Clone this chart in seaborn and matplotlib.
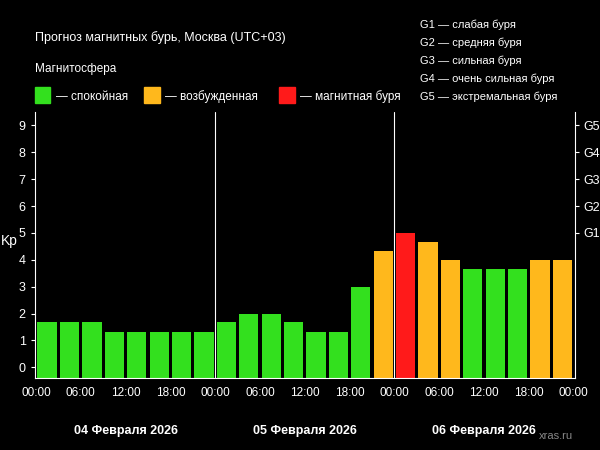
import matplotlib
matplotlib.use("Agg")
import matplotlib.pyplot as plt
import seaborn as sns
import pandas as pd
import numpy as np

kp = [1.67,1.67,1.67,1.33,1.33,1.33,1.33,1.33,
      1.67,2.0,2.0,1.67,1.33,1.33,3.0,4.33,
      5.0,4.67,4.0,3.67,3.67,3.67,4.0,4.0]
hour_labels = ["00:00","06:00","12:00","18:00"]*3 + ["00:00"]
days = ["04 Февраля 2026","05 Февраля 2026","06 Февраля 2026"]
g_levels = ["G1","G2","G3","G4","G5"]
g_desc = ["G1 — слабая буря","G2 — средняя буря","G3 — сильная буря",
          "G4 — очень сильная буря","G5 — экстремальная буря"]

GREEN, ORANGE, RED = "#33e01e", "#ffb81c", "#ff1a1a"
def col(v):
    return RED if v >= 5 else (ORANGE if v >= 4 else GREEN)

sns.set_style("dark")
plt.rcParams['font.family'] = ['Liberation Sans', 'DejaVu Sans']
fig = plt.figure(figsize=(6, 4.5), dpi=100, facecolor="black")
ax = fig.add_axes([0.058, 0.16, 0.9, 0.591], facecolor="black")

BASE = -0.4
df = pd.DataFrame({"i": range(len(kp)), "h": [v - BASE for v in kp]})
sns.barplot(data=df, x="i", y="h", hue="i", palette=[col(v) for v in kp],
            legend=False, width=0.86, ax=ax, bottom=BASE, linewidth=0, saturation=1)

ax.set_ylim(BASE, 9.5)
ax.set_xlim(-0.55, 23.55)
for d in (7.5, 15.5):
    ax.axvline(d, color="white", lw=0.8)
for s in ["left", "bottom", "right"]:
    ax.spines[s].set_color("white"); ax.spines[s].set_linewidth(0.8)
ax.spines["top"].set_visible(False)
ax.set_yticks(range(10))
ax.set_yticklabels([str(i) for i in range(10)], color="white", fontsize=9)
ax.set_xticks(np.arange(-0.5, 24, 2))
ax.set_xticklabels(hour_labels, color="white", fontsize=8.5)
ax.tick_params(colors="white", length=3, width=0.8)
ax.set_xlabel(""); ax.set_ylabel("")
ax.grid(False)
ax2 = ax.twinx()
ax2.set_ylim(ax.get_ylim())
ax2.set_yticks(range(5, 10))
ax2.set_yticklabels(g_levels, color="white", fontsize=9)
ax2.tick_params(colors="white", length=3)
for s in ax2.spines.values():
    s.set_visible(False)
ax2.grid(False)

fig.text(0.002, 0.455, "Kp", color="white", fontsize=10)
for k, d in enumerate(days):
    fig.text(0.058 + 0.9 * (k * 8 + 3.5 + 0.55) / 24.1, 0.035, d, color="white",
             fontsize=9, ha="center", fontweight="bold")
fig.text(0.955, 0.025, "xras.ru", color="#888888", fontsize=8, ha="right")

fig.text(0.058, 0.91, "Прогноз магнитных бурь, Москва (UTC+03)", color="white", fontsize=9)
fig.text(0.058, 0.84, "Магнитосфера", color="white", fontsize=8.5)
leg = [(GREEN, "— спокойная", 0.058), (ORANGE, "— возбужденная", 0.24), (RED, "— магнитная буря", 0.465)]
for c, t, x in leg:
    fig.patches.append(plt.Rectangle((x, 0.772), 0.026, 0.035, color=c, transform=fig.transFigure))
    fig.text(x + 0.035, 0.778, t, color="white", fontsize=8.5)
for k, t in enumerate(g_desc):
    fig.text(0.7, 0.937 - k * 0.04, t, color="white", fontsize=8)

fig.savefig("out.png", dpi=100, facecolor="black")
